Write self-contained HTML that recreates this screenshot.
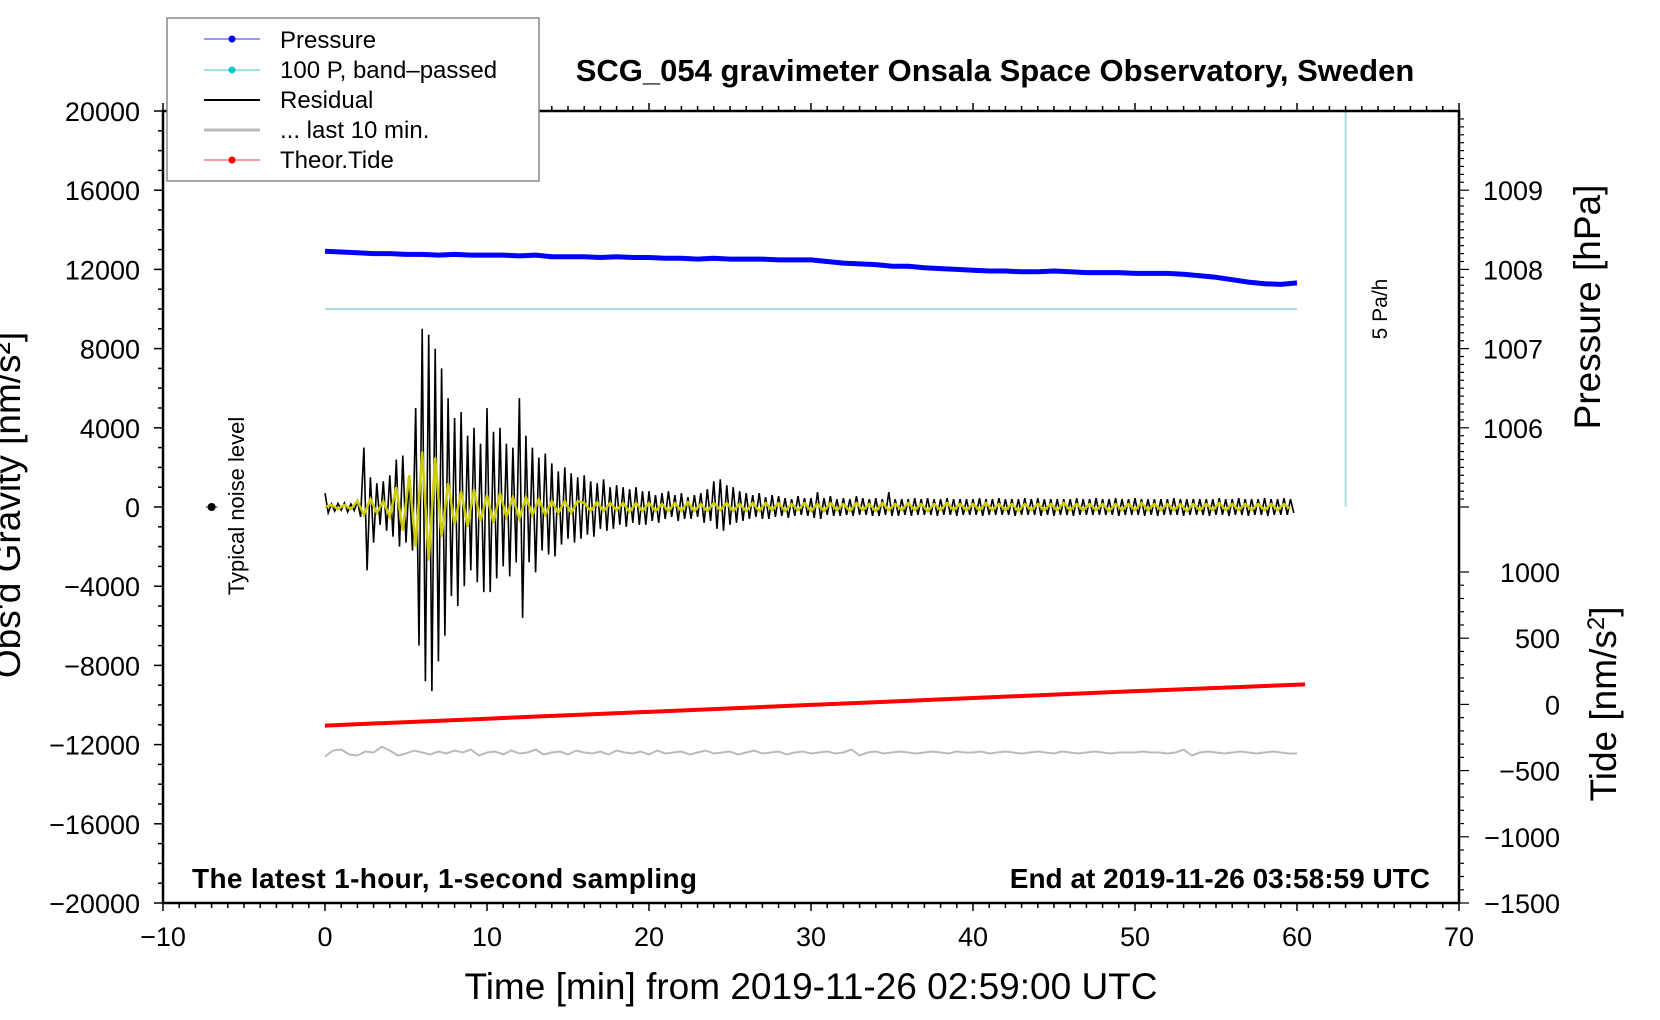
<!DOCTYPE html>
<html><head><meta charset="utf-8">
<style>
html,body{margin:0;padding:0;background:#fff;}
svg{display:block;font-family:"Liberation Sans",Arial,sans-serif;}
</style></head>
<body>
<svg id="chart" width="1660" height="1020" viewBox="0 0 1660 1020">
  <rect x="0" y="0" width="1660" height="1020" fill="#fff"/>
  <g id="marks"></g>
  <g id="axes"></g>
  <rect x="163" y="111" width="1296" height="792" fill="none" stroke="#000" stroke-width="2.5"/>
  <text x="995" y="81" font-size="31" font-weight="bold" text-anchor="middle">SCG_054 gravimeter Onsala Space Observatory, Sweden</text>
  <text x="192" y="888" font-size="28" font-weight="bold" textLength="505">The latest 1-hour, 1-second sampling</text>
  <text x="1430" y="888" font-size="28" font-weight="bold" text-anchor="end">End at 2019-11-26 03:58:59 UTC</text>
  <text x="811" y="999" font-size="37" text-anchor="middle">Time [min] from 2019-11-26 02:59:00 UTC</text>
  <text transform="translate(20,505) rotate(-90)" font-size="37" text-anchor="middle">Obs'd Gravity [nm/s²]</text>
  <text transform="translate(1600,307) rotate(-90)" font-size="37" text-anchor="middle">Pressure [hPa]</text>
  <text transform="translate(1616,704) rotate(-90)" font-size="37" text-anchor="middle">Tide [nm/s<tspan font-size="24" dy="-12">2</tspan><tspan dy="12">]</tspan></text>
  <text transform="translate(1387,309) rotate(-90)" font-size="21" text-anchor="middle">5 Pa/h</text>
  <text transform="translate(244,506) rotate(-90)" font-size="22" text-anchor="middle">Typical noise level</text>
  <g>
    <rect x="167" y="18" width="372" height="163" fill="#fff" stroke="#888" stroke-width="1.5"/>
    <g><line x1="204" y1="39" x2="260" y2="39" stroke="#33f" stroke-width="1"/><circle cx="232" cy="39" r="3.5" fill="#00f"/><text x="280" y="48" font-size="24">Pressure</text></g>
    <g><line x1="204" y1="70" x2="260" y2="70" stroke="#3cc" stroke-width="1"/><circle cx="232" cy="70" r="3.5" fill="#0cc"/><text x="280" y="78" font-size="24">100 P, band–passed</text></g>
    <g><line x1="204" y1="100" x2="260" y2="100" stroke="#000" stroke-width="2"/><text x="280" y="108" font-size="24">Residual</text></g>
    <g><line x1="204" y1="130" x2="260" y2="130" stroke="#bbb" stroke-width="3"/><text x="280" y="138" font-size="24">... last 10 min.</text></g>
    <g><line x1="204" y1="160" x2="260" y2="160" stroke="#f33" stroke-width="1"/><circle cx="232" cy="160" r="3.5" fill="#f00"/><text x="280" y="168" font-size="24">Theor.Tide</text></g>
  </g>
</svg>
<script>
// ---- data ----
const xTicks = [-10,0,10,20,30,40,50,60,70];
const yTicks = [20000,16000,12000,8000,4000,0,-4000,-8000,-12000,-16000,-20000];
const pTicks = [1006,1007,1008,1009];
const tideTicks = [1000,500,0,-500,-1000,-1500];
const residStep = 0.2;
const residual = [
700,-300,150,-200,180,-150,200,-250,150,-180,
300,-500,3000,-3200,1500,-1800,1200,-900,1300,-1200,
1600,-1500,2400,-2000,2600,-1800,1500,-2200,5000,-7000,
9000,-8800,8700,-9300,8000,-7800,7000,-6500,5500,-4500,
4500,-5000,4800,-4000,3600,-3200,4000,-3800,3200,-4300,
5000,-4300,3800,-3600,4000,-3000,3200,-3500,3000,-2800,
5500,-5600,3600,-2800,3000,-3300,2500,-2200,2700,-2400,
2200,-2500,1800,-1900,2000,-1600,1700,-1800,1500,-1600,
1600,-1400,1300,-1500,1200,-1100,1400,-1200,1000,-1100,
1100,-900,1000,-1000,900,-800,1000,-900,800,-900,
800,-700,600,-800,700,-600,800,-500,600,-700,
700,-600,500,-600,600,-500,700,-800,900,-700,
1300,-1100,1400,-1200,1100,-900,1000,-800,800,-700,
700,-600,600,-500,700,-600,500,-600,600,-500,
550,-450,450,-550,400,-450,550,-400,450,-450,
450,-550,750,-600,450,-400,550,-450,400,-450,
450,-400,400,-450,550,-400,450,-400,400,-450,
450,-450,400,-400,750,-450,400,-450,400,-400,
400,-450,450,-400,400,-400,450,-400,400,-450,
400,-400,450,-400,400,-450,400,-400,400,-400,
400,-400,450,-450,400,-400,400,-400,450,-400,
400,-400,400,-450,400,-400,450,-400,400,-400,
450,-450,400,-400,400,-450,400,-400,400,-400,
400,-450,450,-400,400,-400,400,-400,450,-400,
400,-400,400,-400,450,-450,400,-400,400,-400,
450,-400,400,-450,400,-400,400,-450,400,-400,
400,-400,450,-400,400,-450,400,-400,400,-400,
400,-400,400,-450,400,-400,450,-400,400,-450,
400,-400,450,-400,400,-450,400,-400,400,-400,
450,-450,400,-400,400,-400,450,-400,400,-300
];
const yellowStep = 0.4;
const yellow = [
0,100,-100,100,-100,300,-400,400,-300,300,
-500,1000,-1200,1600,-2000,2800,-2700,2500,-1500,1200,
-900,800,-1000,900,-700,600,-800,700,-500,500,
-600,500,-400,400,-400,300,-300,300,-300,300,
200,-200,250,-200,200,-150,200,-250,200,-200,
200,-200,150,-200,200,-200,250,-200,150,-200,
200,-150,200,-200,150,-200,200,-200,200,-150,
200,-200,150,-150,200,-200,150,-200,200,-150,
150,-200,200,-150,150,-200,200,-150,150,-150,
200,-150,150,-200,150,-150,200,-150,150,-150,
150,-150,200,-150,150,-150,150,-200,150,-150,
150,-150,150,-150,200,-150,150,-150,150,-150,
150,-200,150,-150,150,-150,200,-150,150,-150,
150,-150,150,-200,150,-150,150,-150,200,-150,
150,-150,150,-150,150,-150,150,-150,150,-100
];
const pressureStep = 1;
const pressure = [
1008.23,1008.22,1008.21,1008.2,1008.2,1008.19,1008.19,1008.18,1008.19,1008.18,
1008.18,1008.18,1008.17,1008.18,1008.16,1008.16,1008.16,1008.15,1008.16,1008.15,
1008.15,1008.14,1008.14,1008.13,1008.14,1008.13,1008.13,1008.13,1008.12,1008.12,
1008.12,1008.1,1008.08,1008.07,1008.06,1008.04,1008.04,1008.02,1008.01,1008.0,
1007.99,1007.98,1007.98,1007.97,1007.97,1007.98,1007.97,1007.96,1007.96,1007.96,
1007.95,1007.95,1007.95,1007.94,1007.92,1007.9,1007.87,1007.84,1007.82,1007.81,1007.83
];
const bandPassedLevel = 10000;
const bandPassedRange = [0, 60];
const grayStep = 0.5;
const gray = [
-12600,-12300,-12250,-12500,-12550,-12350,-12400,-12100,-12300,-12550,
-12450,-12300,-12400,-12500,-12350,-12450,-12300,-12400,-12250,-12550,
-12400,-12350,-12500,-12300,-12450,-12400,-12250,-12500,-12400,-12350,
-12500,-12300,-12400,-12450,-12350,-12500,-12300,-12400,-12450,-12350,
-12500,-12300,-12450,-12400,-12350,-12500,-12400,-12300,-12450,-12400,
-12350,-12500,-12400,-12300,-12450,-12400,-12350,-12500,-12400,-12350,
-12450,-12400,-12350,-12450,-12400,-12250,-12550,-12400,-12350,-12450,
-12400,-12350,-12400,-12450,-12400,-12350,-12400,-12450,-12350,-12400,
-12400,-12350,-12450,-12400,-12350,-12400,-12450,-12400,-12350,-12400,
-12450,-12350,-12400,-12450,-12400,-12350,-12400,-12450,-12400,-12400,
-12400,-12350,-12400,-12400,-12450,-12400,-12250,-12550,-12400,-12350,
-12400,-12450,-12400,-12350,-12400,-12450,-12400,-12350,-12400,-12450,-12450
];
const tideTimes = [0,10,20,30,40,50,60.5];
const tide = [-160,-108,-56,-4,48,100,151];
const scaleBar = {t: 63, from: 0, to: 20000};
const noiseLevel = {t: -7, v: 0};

// ---- scales ----
const X0=163, X1=1459, Y0=111, Y1=903;
const sx = t => X0 + (t + 10) / 80 * (X1 - X0);
const sy = v => Y1 - (v + 20000) / 40000 * (Y1 - Y0);
const sp = p => sy(16000 + (p - 1009) * 4000);
const st = v => 704.4 - v / 500 * 66.2;

const NS='http://www.w3.org/2000/svg';
const marks=document.getElementById('marks');
const axes=document.getElementById('axes');
function mk(tag, attrs, parent){
  const e=document.createElementNS(NS,tag);
  for(const k in attrs) e.setAttribute(k,attrs[k]);
  parent.appendChild(e); return e;
}
function pts(arr, step, f){ return arr.map((v,i)=>sx(i*step).toFixed(1)+','+f(v).toFixed(1)).join(' '); }

let e=mk('line',{x1:sx(bandPassedRange[0]),x2:sx(bandPassedRange[1]),y1:sy(bandPassedLevel),y2:sy(bandPassedLevel),stroke:'#a8dede','stroke-width':2},marks);


e=mk('line',{x1:sx(scaleBar.t),x2:sx(scaleBar.t),y1:sy(scaleBar.to),y2:sy(scaleBar.from),stroke:'#a8dede','stroke-width':2},marks);


e=mk('polyline',{points:pts(pressure,pressureStep,sp),fill:'none',stroke:'#0000ff','stroke-width':5,'stroke-linejoin':'round'},marks);


e=mk('polyline',{points:pts(residual,residStep,sy),fill:'none',stroke:'#000','stroke-width':1.6},marks);


e=mk('polyline',{points:pts(yellow,yellowStep,sy),fill:'none',stroke:'#cccc00','stroke-width':2.5},marks);


e=mk('polyline',{points:pts(gray,grayStep,sy),fill:'none',stroke:'#bbbbbb','stroke-width':2},marks);


e=mk('polyline',{points:tide.map((v,i)=>sx(tideTimes[i])+','+st(v)).join(' '),fill:'none',stroke:'#ff0000','stroke-width':4},marks);


e=mk('line',{x1:sx(noiseLevel.t)-6,x2:sx(noiseLevel.t)+6,y1:sy(noiseLevel.v),y2:sy(noiseLevel.v),stroke:'#999','stroke-width':2},marks);


e=mk('circle',{cx:sx(noiseLevel.t),cy:sy(noiseLevel.v),r:4,fill:'#000'},marks);



// ---- axes ----
for(let t=-10;t<=70;t++){
  const major=t%10===0, len=major?8:5;
  mk('line',{x1:sx(t),x2:sx(t),y1:Y1,y2:Y1+len,stroke:'#000','stroke-width':1.5},axes);
  mk('line',{x1:sx(t),x2:sx(t),y1:Y0,y2:Y0-len,stroke:'#000','stroke-width':1.5},axes);
}
xTicks.forEach(t=>{
  const el=mk('text',{x:sx(t),y:946,'font-size':27,'text-anchor':'middle'},axes);
  el.textContent=(t<0?'−':'')+Math.abs(t);
  
  
});
for(let v=-20000;v<=20000;v+=1000){
  const major=v%4000===0;
  mk('line',{x1:X0,x2:X0-(major?9:5),y1:sy(v),y2:sy(v),stroke:'#000','stroke-width':1.5},axes);
}
yTicks.forEach(v=>{
  const el=mk('text',{x:140,y:sy(v)+10,'font-size':27,'text-anchor':'end'},axes);
  el.textContent=(v<0?'−':'')+Math.abs(v);
  
  
});
for(let p=1005.0;p<=1009.92;p+=0.1){
  const pr=Math.round(p*10)/10, y=sp(pr);
  if(y<Y0) continue;
  const major=Math.abs(pr-Math.round(pr))<1e-6;
  mk('line',{x1:X1,x2:X1+(major?10:5),y1:y,y2:y,stroke:'#000','stroke-width':1.2},axes);
}
pTicks.forEach(p=>{
  const el=mk('text',{x:1483,y:sp(p)+10,'font-size':27},axes);
  el.textContent=p;
  
  
});
for(let v=-1500;v<=1000;v+=100){
  const major=v%500===0;
  mk('line',{x1:X1,x2:X1+(major?10:5),y1:st(v),y2:st(v),stroke:'#000','stroke-width':1.2},axes);
}
tideTicks.forEach(v=>{
  const el=mk('text',{x:1560,y:st(v)+10,'font-size':27,'text-anchor':'end'},axes);
  el.textContent=(v<0?'−':'')+Math.abs(v);
  
  
});
</script>
</body></html>
